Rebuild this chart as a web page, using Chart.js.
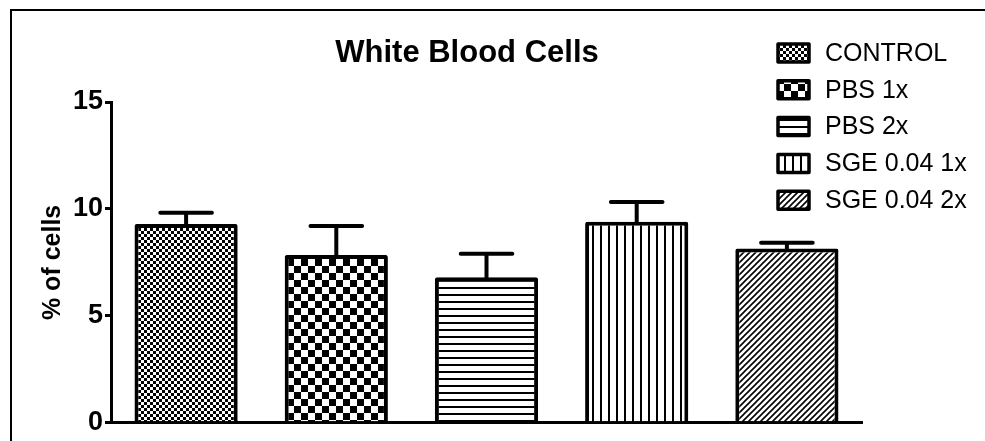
<!DOCTYPE html>
<html>
<head>
<meta charset="utf-8">
<script src="https://cdn.jsdelivr.net/npm/chart.js@4.4.1/dist/chart.umd.min.js"></script>
<style>
  html, body { margin: 0; padding: 0; background: #fff; }
  #wrap { width: 985px; height: 441px; position: relative; }
</style>
</head>
<body>
<div id="wrap"><canvas id="wbcChart" width="985" height="441"></canvas></div>
<script>
// ========== Data ==========
const categories = ['CONTROL', 'PBS 1x', 'PBS 2x', 'SGE 0.04 1x', 'SGE 0.04 2x'];
const means = [9.3, 7.85, 6.8, 9.4, 8.15];
const sems = [0.52, 1.35, 1.1, 0.93, 0.27];
const yTicks = [0, 5, 10, 15];

// ========== Fill patterns (one per group) ==========
function makePattern(w, h, draw) {
    const c = document.createElement('canvas');
    c.width = w; c.height = h;
    const g = c.getContext('2d');
    g.fillStyle = '#fff';
    g.fillRect(0, 0, w, h);
    g.fillStyle = '#000';
    g.strokeStyle = '#000';
    draw(g, w, h);
    return g.createPattern(c, 'repeat');
}

const patterns = [
    // fine checkerboard
    makePattern(6, 6, (g) => { g.fillRect(0, 0, 3, 3); g.fillRect(3, 3, 3, 3); }),
    // coarse checkerboard
    makePattern(14, 14, (g) => { g.fillRect(0, 0, 7, 7); g.fillRect(7, 7, 7, 7); }),
    // horizontal lines
    makePattern(8, 7, (g) => { g.fillRect(0, 0, 8, 2); }),
    // vertical lines
    makePattern(8, 8, (g) => { g.fillRect(0, 0, 2, 8); }),
    // diagonal hatch
    makePattern(6, 6, (g) => {
        g.lineWidth = 1.6;
        g.beginPath();
        g.moveTo(-1, 7); g.lineTo(7, -1);
        g.moveTo(-4, 4); g.lineTo(4, -4);
        g.moveTo(2, 10); g.lineTo(10, 2);
        g.stroke();
    })
];

// ========== Plugins: frame, title, legend, error bars ==========
const framePlugin = {
    id: 'frame',
    afterDraw(chart) {
        const ctx = chart.ctx;
        ctx.save();
        ctx.strokeStyle = '#000';
        ctx.lineWidth = 2;
        ctx.beginPath();
        ctx.moveTo(11, 441);
        ctx.lineTo(11, 10);
        ctx.lineTo(985, 10);
        ctx.stroke();
        ctx.restore();
    }
};

const titlePlugin = {
    id: 'plotTitle',
    afterDraw(chart) {
        const ctx = chart.ctx;
        ctx.save();
        ctx.fillStyle = '#000';
        ctx.font = "bold 31px 'Liberation Sans', Arial, sans-serif";
        ctx.textAlign = 'center';
        ctx.textBaseline = 'alphabetic';
        ctx.fillText('White Blood Cells', 467, 62);
        ctx.restore();
    }
};

const legendPlugin = {
    id: 'patternLegend',
    afterDraw(chart) {
        const ctx = chart.ctx;
        ctx.save();
        ctx.font = "25px 'Liberation Sans', Arial, sans-serif";
        ctx.textBaseline = 'middle';
        categories.forEach((label, i) => {
            const cy = 53 + i * 36.8;
            ctx.fillStyle = patterns[i];
            ctx.fillRect(778, cy - 9, 31, 18);
            ctx.strokeStyle = '#000';
            ctx.lineWidth = 3.5;
            ctx.lineJoin = 'round';
            ctx.strokeRect(778, cy - 9, 31, 18);
            ctx.fillStyle = '#000';
            ctx.fillText(label, 825, cy + 1);
        });
        ctx.restore();
    }
};

const errorBarPlugin = {
    id: 'errorBars',
    afterDatasetsDraw(chart) {
        const ctx = chart.ctx;
        const meta = chart.getDatasetMeta(0);
        const yScale = chart.scales.y;
        ctx.save();
        ctx.strokeStyle = '#000';
        ctx.lineWidth = 4;
        ctx.lineCap = 'round';
        meta.data.forEach((bar, i) => {
            const x = bar.x;
            const yTop = yScale.getPixelForValue(means[i] + sems[i]);
            const yBase = yScale.getPixelForValue(means[i]);
            const half = bar.width / 4;
            ctx.beginPath();
            ctx.moveTo(x, yBase);
            ctx.lineTo(x, yTop);
            ctx.moveTo(x - half, yTop);
            ctx.lineTo(x + half, yTop);
            ctx.stroke();
        });
        ctx.restore();
    }
};

// ========== Chart ==========
new Chart(document.getElementById('wbcChart'), {
    type: 'bar',
    data: {
        labels: categories,
        datasets: [{
            data: means,
            backgroundColor: patterns,
            borderColor: '#000',
            borderWidth: 4,
            borderRadius: 2,
            borderSkipped: 'start',
            categoryPercentage: 1,
            barPercentage: 0.687
        }]
    },
    options: {
        responsive: false,
        animation: false,
        layout: { padding: { top: 102, right: 123, bottom: 0, left: 0 } },
        plugins: {
            legend: { display: false },
            title: { display: false },
            tooltip: { enabled: false }
        },
        scales: {
            x: {
                ticks: { display: false },
                grid: { display: false, drawTicks: false },
                border: { display: true, color: '#000', width: 3 },
                afterFit(scale) { scale.height = 18; }
            },
            y: {
                min: 0,
                max: 15,
                afterBuildTicks(scale) { scale.ticks = yTicks.map(v => ({ value: v })); },
                ticks: {
                    color: '#000',
                    padding: 2,
                    font: { family: "'Liberation Sans', Arial, sans-serif", size: 27, weight: 'bold' }
                },
                grid: {
                    display: true,
                    drawOnChartArea: false,
                    drawTicks: true,
                    tickLength: 6,
                    color: '#000',
                    lineWidth: 3
                },
                border: { display: true, color: '#000', width: 3 },
                title: {
                    display: true,
                    text: '% of cells',
                    color: '#000',
                    padding: { top: 38, bottom: 0 },
                    font: { family: "'Liberation Sans', Arial, sans-serif", size: 25, weight: 'bold' }
                },
                afterFit(scale) { scale.width = 111; }
            }
        }
    },
    plugins: [framePlugin, errorBarPlugin, titlePlugin, legendPlugin]
});
</script>
</body>
</html>
